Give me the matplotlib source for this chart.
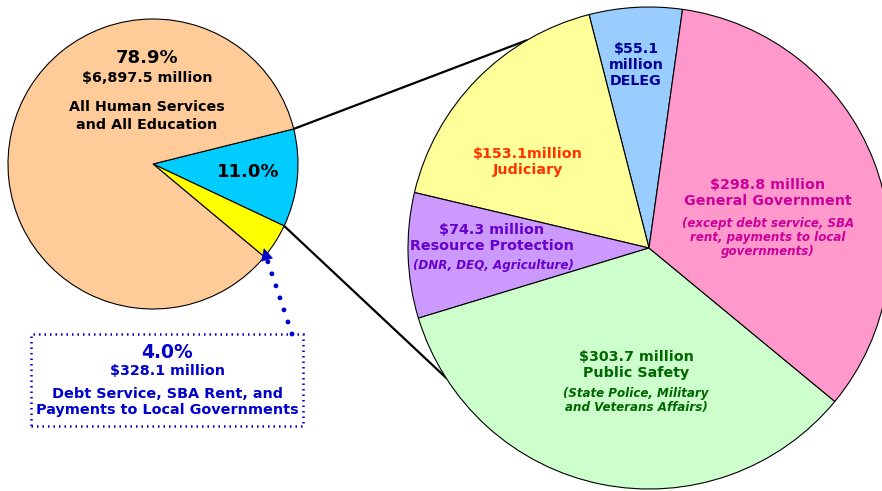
import numpy as np
import matplotlib
matplotlib.use('Agg')
import matplotlib.pyplot as plt
from matplotlib.patches import Rectangle

# left pie: all spending ($ million)
left_labels = ['Other general fund', 'Debt Service etc.', 'Human Services and Education']
left_values = [885.0, 328.1, 6897.5]
left_colors = ['#00CCFF', '#FFFF00', '#FFCC99']

# right pie: breakdown of the 11.0% slice ($ million)
right_labels = ['DELEG', 'Judiciary', 'Resource Protection', 'Public Safety', 'General Government']
right_values = [55.1, 153.1, 74.3, 303.7, 298.8]
right_colors = ['#99CCFF', '#FFFF99', '#CC99FF', '#CCFFCC', '#FF99CC']

W, H = 882, 491
fig = plt.figure(figsize=(W / 100, H / 100), dpi=100)
ax = fig.add_axes([0, 0, 1, 1])


def py(y):
    # pixel row -> data y
    return H - y


lc = (153, py(164))
lr = 145
rc = (649, py(248))
rr = 241

wl, _ = ax.pie(left_values, colors=left_colors, center=lc, radius=lr,
               startangle=14, counterclock=False,
               wedgeprops=dict(edgecolor='black', linewidth=0.8))
wr, _ = ax.pie(right_values, colors=right_colors, center=rc, radius=rr,
               startangle=82, counterclock=True,
               wedgeprops=dict(edgecolor='black', linewidth=0.8))
ax.set_xlim(0, W)
ax.set_ylim(0, H)
ax.set_aspect('equal')
ax.axis('off')


def on_circle(c, r, deg):
    a = np.radians(deg)
    return c[0] + r * np.cos(a), c[1] + r * np.sin(a)


# connector lines from blue slice to the right pie
blue = wl[0]
p1 = on_circle(lc, lr, blue.theta2)
q1 = on_circle(rc, rr, 120.5)
p2 = on_circle(lc, lr, blue.theta1)
q2 = on_circle(rc, rr, 212.5)
ax.plot([p1[0], q1[0]], [p1[1], q1[1]], color='black', lw=1.6, zorder=0.5)
ax.plot([p2[0], q2[0]], [p2[1], q2[1]], color='black', lw=1.6, zorder=0.5)

F = 'DejaVu Sans'
big = 10.3
small = 8.6

# left pie labels
ax.text(147, py(58), '78.9%', ha='center', va='center', fontsize=13, fontweight='bold', family=F)
ax.text(147, py(78), '$6,897.5 million', ha='center', va='center', fontsize=big, fontweight='bold', family=F)
ax.text(147, py(116), 'All Human Services\nand All Education', ha='center', va='center',
        fontsize=big, fontweight='bold', family=F, linespacing=1.3)
ax.text(248, py(172), '11.0%', ha='center', va='center', fontsize=13, fontweight='bold', family=F)

# right pie labels
ax.text(636, py(65), '$55.1\nmillion\nDELEG', ha='center', va='center', fontsize=big,
        fontweight='bold', color='#000099', family=F, linespacing=1.2)
ax.text(528, py(162), '$153.1million\nJudiciary', ha='center', va='center', fontsize=big,
        fontweight='bold', color='#FF3300', family=F, linespacing=1.25)
ax.text(492, py(238), '$74.3 million\nResource Protection', ha='center', va='center', fontsize=big,
        fontweight='bold', color='#6600CC', family=F, linespacing=1.25)
ax.text(493, py(265), '(DNR, DEQ, Agriculture)', ha='center', va='center', fontsize=small,
        fontweight='bold', style='italic', color='#6600CC', family=F)
ax.text(768, py(193), '$298.8 million\nGeneral Government', ha='center', va='center', fontsize=big,
        fontweight='bold', color='#CC0099', family=F, linespacing=1.25)
ax.text(768, py(237), '(except debt service, SBA\nrent, payments to local\ngovernments)', ha='center',
        va='center', fontsize=small, fontweight='bold', style='italic', color='#CC0099', family=F,
        linespacing=1.1)
ax.text(636, py(365), '$303.7 million\nPublic Safety', ha='center', va='center', fontsize=big,
        fontweight='bold', color='#006600', family=F, linespacing=1.25)
ax.text(636, py(401), '(State Police, Military\nand Veterans Affairs)', ha='center', va='center',
        fontsize=small, fontweight='bold', style='italic', color='#006600', family=F, linespacing=1.1)

# callout box for debt service slice
bc = '#0000CC'
ax.add_patch(Rectangle((31, py(426)), 272, 92, fill=False, edgecolor=bc, lw=1.8,
                       linestyle=(0, (0.6, 1.6)), zorder=3))
ax.text(167, py(352), '4.0%', ha='center', va='center', fontsize=13.5, fontweight='bold', color=bc, family=F)
ax.text(167, py(371), '$328.1 million', ha='center', va='center', fontsize=big, fontweight='bold',
        color=bc, family=F)
ax.text(167, py(402), 'Debt Service, SBA Rent, and\nPayments to Local Governments', ha='center',
        va='center', fontsize=10.4, fontweight='bold', color=bc, family=F, linespacing=1.2)

# dotted arrow into the yellow slice
tip = on_circle(lc, 137, -36.5)
start = (292, py(334))
ax.plot([start[0], tip[0] + 2], [start[1], tip[1] - 8], color=bc, lw=3.5,
        linestyle=(0, (0.01, 2.6)), dash_capstyle='round', zorder=4)
ax.annotate('', xy=tip, xytext=(tip[0] + 2.5, tip[1] - 9),
            arrowprops=dict(arrowstyle='-|>,head_length=0.8,head_width=0.4', color=bc, lw=0.5),
            zorder=5)

fig.savefig('out.png', dpi=100)
